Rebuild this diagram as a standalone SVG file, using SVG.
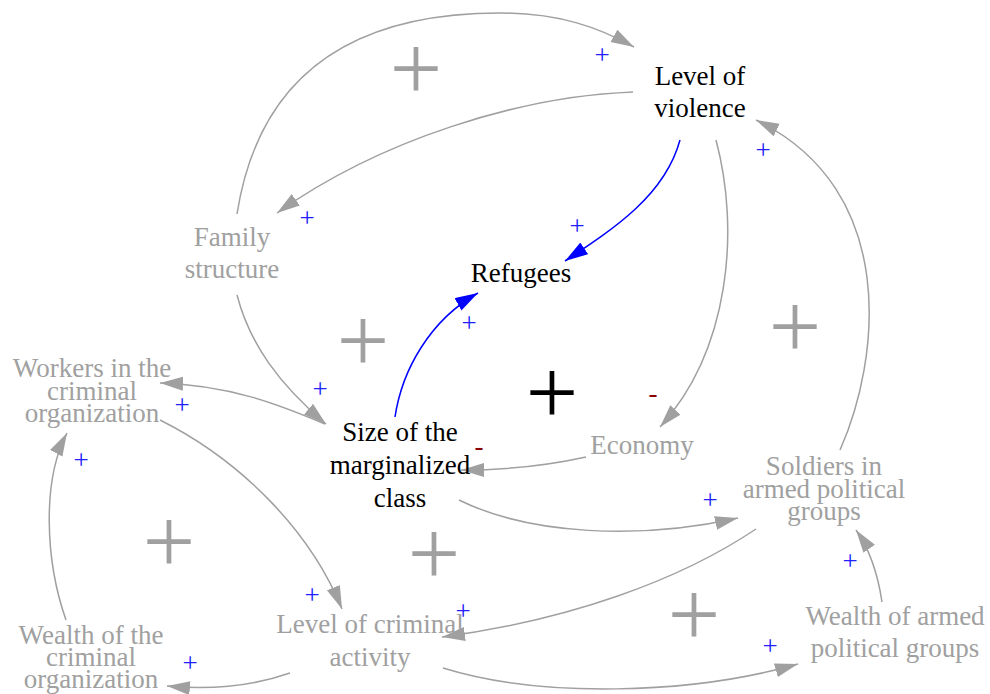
<svg xmlns="http://www.w3.org/2000/svg" width="990" height="694" viewBox="0 0 990 694" font-family="'Liberation Serif', 'Times New Roman', serif">
  <style>
    text { text-anchor: middle; }
    .lbl { font-size: 27px; }
    .blk { fill: #000000; }
    .gry { fill: #a0a0a0; }
    .pos { font-size: 27px; fill: #2020ff; }
    .neg { font-size: 27px; fill: #8b0000; }
    .loop { font-size: 93px; }
    .link { fill: none; stroke: #a0a0a0; stroke-width: 1.5; marker-end: url(#ahGray); }
    .blue { fill: none; stroke: #0000ff; stroke-width: 1.5; marker-end: url(#ahBlue); }
  </style>
  <defs>
    <marker id="ahGray" markerUnits="userSpaceOnUse" markerWidth="24" markerHeight="16" refX="23" refY="7" orient="auto">
      <path d="M0,0 L23,7 L0,14 Z" fill="#a0a0a0"/>
    </marker>
    <marker id="ahBlue" markerUnits="userSpaceOnUse" markerWidth="24" markerHeight="16" refX="23" refY="7" orient="auto">
      <path d="M0,0 L23,7 L0,14 Z" fill="#0000ff"/>
    </marker>
  </defs>

  <rect width="990" height="694" fill="#ffffff"/>

  <!-- causal links -->
  <g id="connectors">
    <path class="link" d="M237,214 C258,80 345,13 500,13 C560,13 600,28 634,47"/>
    <path class="link" d="M633,92 C520,96 380,140 277,213"/>
    <path class="blue" d="M680,140 C665,195 615,228 565,261"/>
    <path class="blue" d="M395,417 C402,370 430,320 478,293"/>
    <path class="link" d="M237,295 C250,345 280,385 326,424"/>
    <path class="link" d="M325,424 C280,405 230,385 160,383"/>
    <path class="link" d="M160,420 C240,460 310,530 342,609"/>
    <path class="link" d="M66,620 C45,560 42,480 67,433"/>
    <path class="link" d="M290,673 C250,687 210,690 167,686"/>
    <path class="link" d="M443,668 C540,698 690,695 798,664"/>
    <path class="link" d="M756,529 C680,580 570,620 442,637"/>
    <path class="link" d="M459,500 C530,535 640,540 738,518"/>
    <path class="link" d="M882,602 C878,575 870,550 856,530"/>
    <path class="link" d="M840,450 C880,360 900,190 756,120"/>
    <path class="link" d="M716,140 C740,230 730,350 660,427"/>
    <path class="link" d="M586,457 C550,465 510,470 461,470"/>

    <!-- link polarities -->
    <text class="pos" x="602" y="64">+</text>
    <text class="pos" x="307" y="227">+</text>
    <text class="pos" x="577" y="235">+</text>
    <text class="pos" x="469" y="332">+</text>
    <text class="pos" x="320" y="398">+</text>
    <text class="pos" x="182" y="414">+</text>
    <text class="pos" x="81" y="469">+</text>
    <text class="pos" x="312" y="604">+</text>
    <text class="pos" x="190" y="672">+</text>
    <text class="pos" x="770" y="655">+</text>
    <text class="pos" x="463" y="620">+</text>
    <text class="pos" x="710" y="509">+</text>
    <text class="pos" x="850" y="570">+</text>
    <text class="pos" x="763" y="159">+</text>
    <text class="neg" x="653" y="402">-</text>
    <text class="neg" x="479" y="455">-</text>
  </g>

  <!-- loop markers -->
  <g id="loops">
    <text class="loop gry" x="416" y="100">+</text>
    <text class="loop gry" x="363" y="372">+</text>
    <text class="loop gry" x="795" y="358">+</text>
    <text class="loop gry" x="169" y="573">+</text>
    <text class="loop gry" x="434" y="585">+</text>
    <text class="loop gry" x="694" y="646">+</text>
    <text class="loop blk" x="552" y="424">+</text>
  </g>

  <!-- variables -->
  <g id="level-of-violence">
    <text class="lbl blk" x="700" y="85">Level of</text>
    <text class="lbl blk" x="700" y="117">violence</text>
  </g>
  <g id="refugees">
    <text class="lbl blk" x="521" y="282">Refugees</text>
  </g>
  <g id="family-structure">
    <text class="lbl gry" x="232" y="246">Family</text>
    <text class="lbl gry" x="232" y="278">structure</text>
  </g>
  <g id="workers-criminal-org">
    <text class="lbl gry" x="92" y="377">Workers in the</text>
    <text class="lbl gry" x="92" y="400">criminal</text>
    <text class="lbl gry" x="92" y="422">organization</text>
  </g>
  <g id="marginalized-class">
    <text class="lbl blk" x="400" y="441">Size of the</text>
    <text class="lbl blk" x="400" y="474">marginalized</text>
    <text class="lbl blk" x="400" y="507">class</text>
  </g>
  <g id="economy">
    <text class="lbl gry" x="642" y="454">Economy</text>
  </g>
  <g id="soldiers">
    <text class="lbl gry" x="824" y="475">Soldiers in</text>
    <text class="lbl gry" x="824" y="498">armed political</text>
    <text class="lbl gry" x="824" y="520">groups</text>
  </g>
  <g id="wealth-armed-groups">
    <text class="lbl gry" x="895" y="625">Wealth of armed</text>
    <text class="lbl gry" x="895" y="657">political groups</text>
  </g>
  <g id="criminal-activity">
    <text class="lbl gry" x="370" y="633">Level of criminal</text>
    <text class="lbl gry" x="370" y="666">activity</text>
  </g>
  <g id="wealth-criminal-org">
    <text class="lbl gry" x="91" y="644">Wealth of the</text>
    <text class="lbl gry" x="91" y="666">criminal</text>
    <text class="lbl gry" x="91" y="688">organization</text>
  </g>
</svg>
